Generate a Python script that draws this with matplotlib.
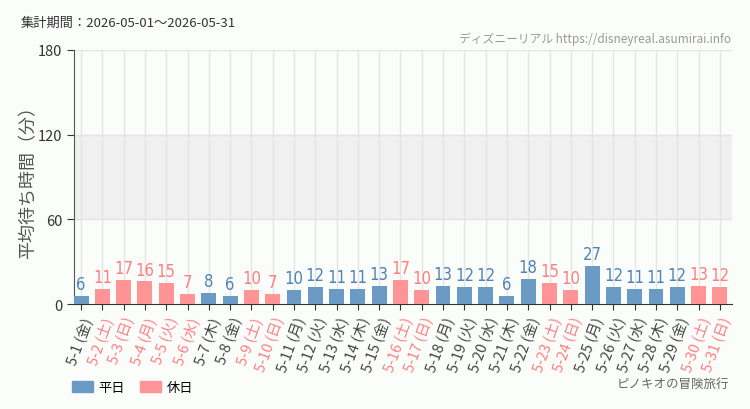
import matplotlib
matplotlib.use("Agg")
import matplotlib.pyplot as plt
from matplotlib.patches import Patch

plt.rcParams['font.family'] = ['Noto Sans CJK JP', 'DejaVu Sans']

# data
days = ['5-1', '5-2', '5-3', '5-4', '5-5', '5-6', '5-7', '5-8', '5-9', '5-10',
        '5-11', '5-12', '5-13', '5-14', '5-15', '5-16', '5-17', '5-18', '5-19', '5-20',
        '5-21', '5-22', '5-23', '5-24', '5-25', '5-26', '5-27', '5-28', '5-29', '5-30', '5-31']
weekdays = ['金', '土', '日', '月', '火', '水', '木', '金', '土', '日',
            '月', '火', '水', '木', '金', '土', '日', '月', '火', '水',
            '木', '金', '土', '日', '月', '火', '水', '木', '金', '土', '日']
holiday = [0, 1, 1, 1, 1, 1, 0, 0, 1, 1,
           0, 0, 0, 0, 0, 1, 1, 0, 0, 0,
           0, 0, 1, 1, 0, 0, 0, 0, 0, 1, 1]
waits = [6, 11, 17, 16, 15, 7, 8, 6, 10, 7,
         10, 12, 11, 11, 13, 17, 10, 13, 12, 12,
         6, 18, 15, 10, 27, 12, 11, 11, 12, 13, 12]

bar_blue = '#6b9ac4'
bar_pink = '#ff9497'
txt_blue = '#4f84b8'
txt_pink = '#ff7e80'
bg = '#fbfdfb'

fig = plt.figure(figsize=(7.5, 4.1), dpi=100, facecolor=bg)
ax = fig.add_axes([0.0987, 0.256, 0.877, 0.62])
ax.set_facecolor(bg)

x = list(range(len(days)))
colors = [bar_pink if h else bar_blue for h in holiday]
ax.axhspan(60, 120, color='#f0f0f0', zorder=0)
ax.bar(x, waits, width=0.7, color=colors, zorder=3)

for i, v in enumerate(waits):
    ax.text(i, v + 2, str(v), ha='center', va='bottom', fontsize=12,
            color=txt_pink if holiday[i] else txt_blue,
            family='DejaVu Sans', fontstretch='condensed')

ax.set_xlim(-0.33, len(days) - 0.44)
ax.set_ylim(0, 180)
ax.set_yticks([0, 60, 120, 180])
ax.tick_params(axis='y', labelsize=10.5, colors='#333333', length=5)
ax.tick_params(axis='x', length=4, colors='#333333')
ax.set_xticks(x)
ax.set_xticklabels([f'{d} ({w})' for d, w in zip(days, weekdays)],
                   rotation=70, ha='right', rotation_mode='anchor', fontsize=10.5)
for lbl, h in zip(ax.get_xticklabels(), holiday):
    lbl.set_color(txt_pink if h else '#444444')

ax.grid(axis='x', color='#e4e4e4', lw=1, zorder=1)
for yv in [60, 120, 180]:
    ax.axhline(yv, color='#e4e4e4', lw=1, zorder=1)

for s in ['top', 'right']:
    ax.spines[s].set_visible(False)
ax.spines['left'].set_color('#555555')
ax.spines['bottom'].set_color('#333333')

ax.set_ylabel('平均待ち時間（分）', fontsize=13, color='#555555', labelpad=0)

fig.text(0.027, 0.935, '集計期間：2026-05-01～2026-05-31', fontsize=9.5, color='#333333')
fig.text(0.975, 0.895, 'ディズニーリアル https://disneyreal.asumirai.info', fontsize=8.5,
         color='#999999', ha='right')
fig.text(0.972, 0.055, 'ピノキオの冒険旅行', fontsize=9, color='#666666', ha='right')

handles = [Patch(color=bar_blue, label='平日'), Patch(color=bar_pink, label='休日')]
fig.legend(handles=handles, loc='lower left', bbox_to_anchor=(0.092, 0.03), ncol=2,
           frameon=False, fontsize=9.5, handlelength=1.6, handleheight=0.8,
           columnspacing=1.2, handletextpad=0.4, borderaxespad=0, borderpad=0.2)

fig.savefig('out.png', dpi=100, facecolor=bg)
